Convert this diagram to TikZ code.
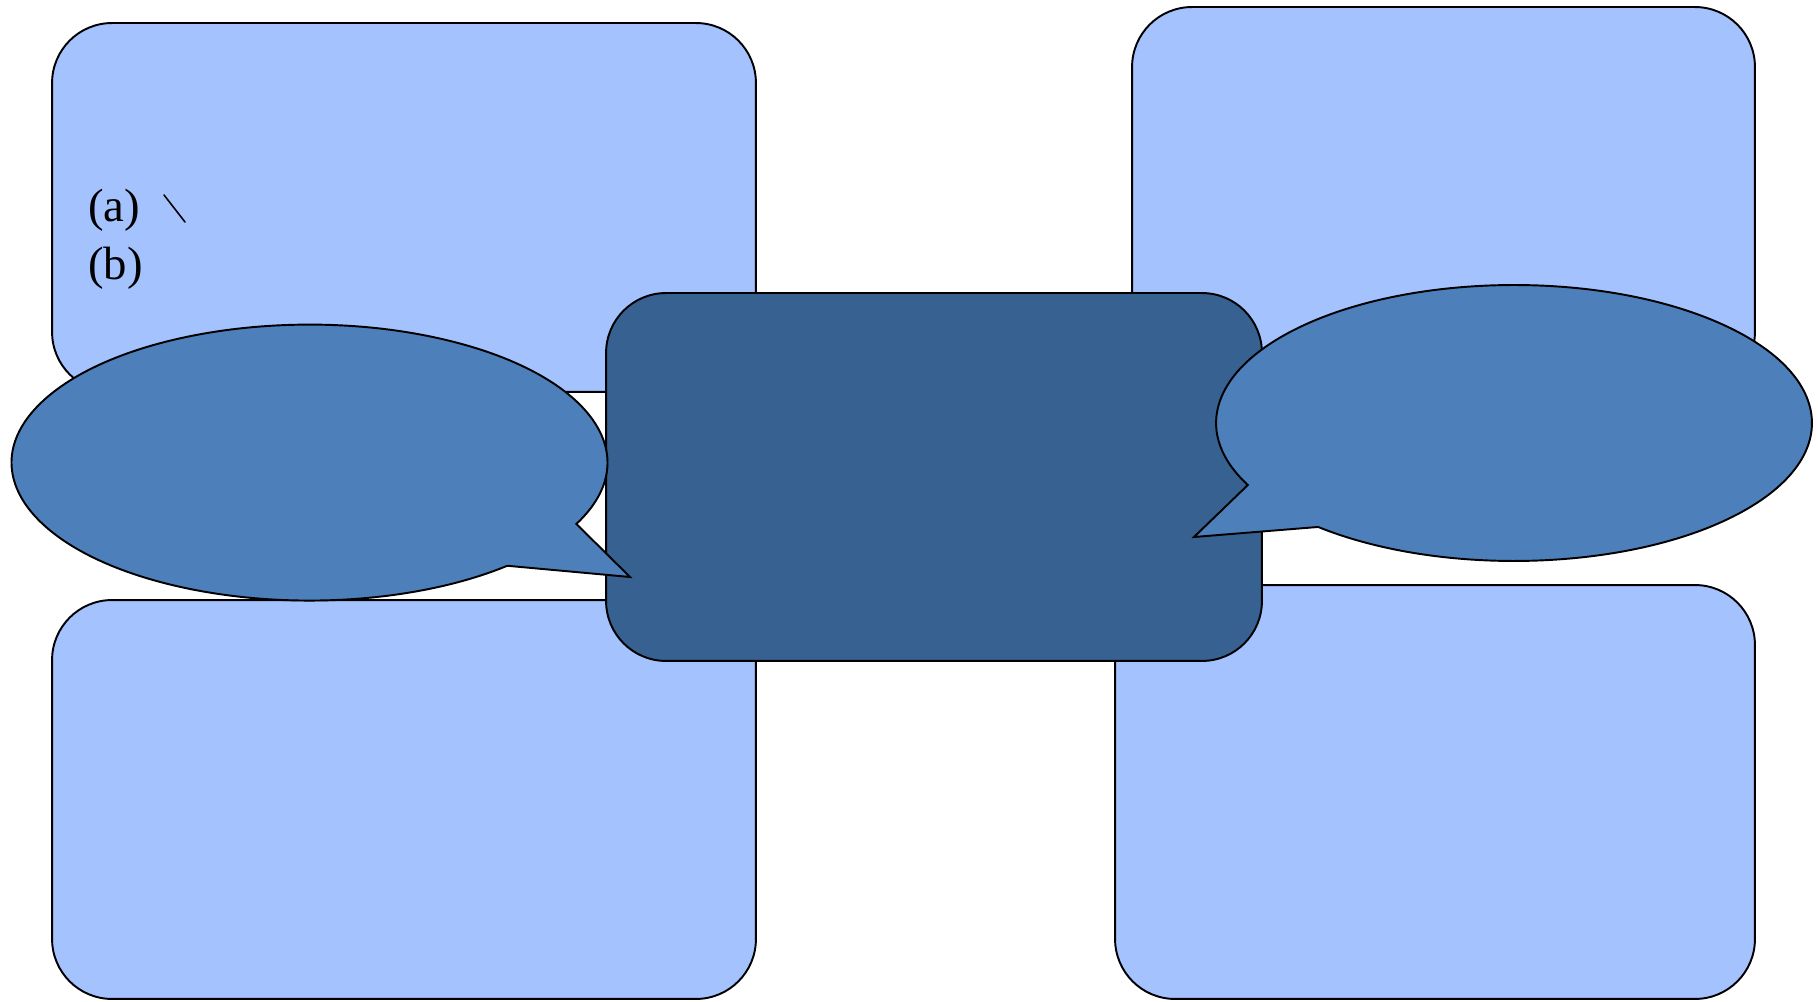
\documentclass[tikz,border=0pt]{standalone}
\usepackage{fontspec}
\setmainfont{Liberation Serif}
\definecolor{lightbox}{RGB}{164,194,254}
\definecolor{midbox}{RGB}{54,97,145}
\definecolor{bubble}{RGB}{77,128,187}
\tikzset{
  panel/.style={draw=black, line width=1.1pt, fill=lightbox, rounded corners=1.2cm, inner sep=0pt},
  hub/.style={draw=black, line width=1.1pt, fill=midbox, rounded corners=1.2cm, inner sep=0pt},
  callout/.style={draw=black, line width=1.1pt, fill=bubble, line join=miter},
  itemlabel/.style={font=\fontsize{26.6pt}{30pt}\selectfont, inner sep=0pt, anchor=west}
}
\begin{document}
\begin{tikzpicture}[x=0.02cm, y=0.02cm]
\useasboundingbox (0,0) rectangle (1818,1001);
% four panels
\node[panel, minimum width=14.08cm, minimum height=7.38cm] (tl) at (404,793.5) {};
\node[panel, minimum width=12.46cm, minimum height=7.7cm] (tr) at (1443.5,801.5) {};
\node[panel, minimum width=14.08cm, minimum height=7.98cm] (bl) at (404,201.5) {};
\node[panel, minimum width=12.8cm, minimum height=8.28cm] (br) at (1435,209) {};
% centre hub
\node[hub, minimum width=13.12cm, minimum height=7.36cm] (hub) at (934,524) {};
% labels
\node[itemlabel] (la) at (88,791) {(a)};
\node[itemlabel] (lb) at (88,733) {(b)};
\coordinate (s1) at (164,806);
\coordinate (s2) at (185,779);
\draw[line width=0.9pt, line cap=round] (s1) -- (s2);
% left callout
\coordinate (lc) at (309.5,538.4);
\coordinate (ltip) at (630,424);
\draw[callout] (lc) ++(-26.4:5.96cm and 2.76cm)
  arc[start angle=-26.4, end angle=311.6, x radius=5.96cm, y radius=2.76cm]
  -- (ltip) -- cycle;
% right callout
\coordinate (rc) at (1514,578);
\coordinate (rtip) at (1194,464);
\draw[callout] (rc) ++(228.9:5.96cm and 2.76cm)
  arc[start angle=228.9, end angle=566.7, x radius=5.96cm, y radius=2.76cm]
  -- (rtip) -- cycle;
\end{tikzpicture}
\end{document}
